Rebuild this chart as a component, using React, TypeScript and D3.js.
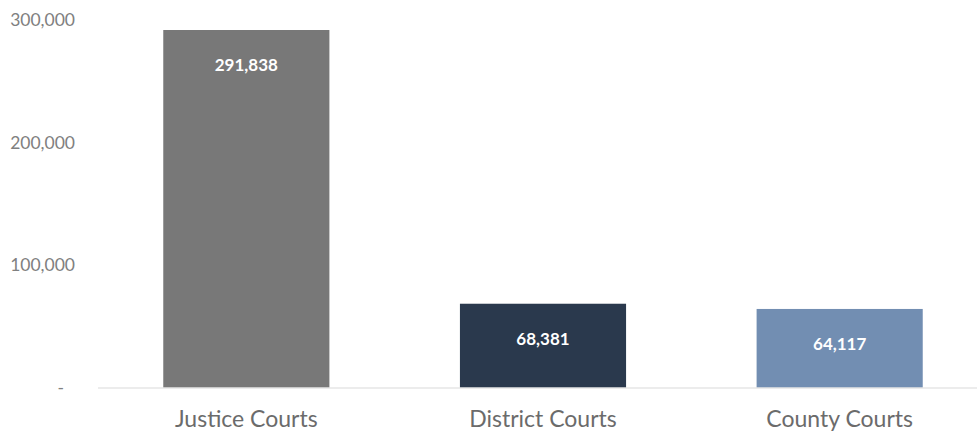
import React from 'react';
import * as d3 from 'd3';

// chart values
const categories = ['Justice Courts', 'District Courts', 'County Courts'];
const caseCounts = [291838, 68381, 64117];
const barColors = ['#787878', '#2a394d', '#728eb2'];
const yTicks = [0, 100000, 200000, 300000];

const width = 977;
const height = 432;

const App = () => {
    const x = d3.scaleBand<string>()
        .domain(categories)
        .range([98, 988])
        .paddingInner(0.44)
        .paddingOuter(0.22);

    const y = d3.scaleLinear()
        .domain([0, 300000])
        .range([387.5, 20]);

    const fmt = d3.format(',');

    return (
        <svg
            width={width}
            height={height}
            style={{ position: 'absolute', left: 0, top: 0, fontFamily: 'Lato, "Noto Sans", sans-serif' }}
        >
            {/* y axis labels */}
            {yTicks.map(t => (
                <text
                    key={t}
                    x={t === 0 ? 64 : 75}
                    y={y(t)}
                    dy="0.35em"
                    textAnchor="end"
                    fontSize={17.5}
                    fill="#808080"
                >
                    {t === 0 ? '-' : fmt(t)}
                </text>
            ))}

            {/* bars */}
            {categories.map((c, i) => (
                <g key={c}>
                    <rect
                        x={x(c)}
                        y={y(caseCounts[i])}
                        width={x.bandwidth()}
                        height={y(0) - y(caseCounts[i])}
                        fill={barColors[i]}
                    />
                    <text
                        x={(x(c) as number) + x.bandwidth() / 2}
                        y={y(caseCounts[i]) + 41}
                        textAnchor="middle"
                        fontSize={17}
                        fontWeight="bold"
                        fill="#ffffff"
                    >
                        {fmt(caseCounts[i])}
                    </text>
                    <text
                        x={(x(c) as number) + x.bandwidth() / 2}
                        y={427}
                        textAnchor="middle"
                        fontSize={23}
                        fill="#6b6b6b"
                    >
                        {c}
                    </text>
                </g>
            ))}

            {/* baseline */}
            <line x1={98} x2={977} y1={388} y2={388} stroke="#d9d9d9" strokeWidth={1} />
        </svg>
    );
};

export default App;
